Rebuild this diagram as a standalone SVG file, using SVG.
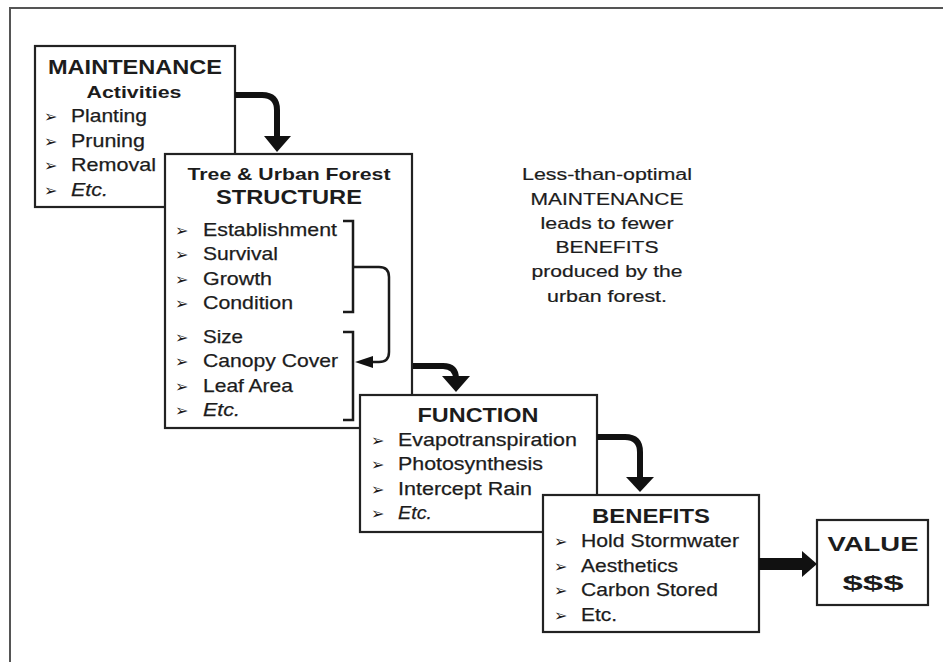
<svg xmlns="http://www.w3.org/2000/svg" width="943" height="662" viewBox="0 0 943 662">
<style>
.bg{fill:#fff}
.frame{fill:none;stroke:#555;stroke-width:2}
.box{fill:#fff;stroke:#222;stroke-width:2.2}
text{font-family:"Liberation Sans",Arial,sans-serif;fill:#1c1c1c}
.h{font-weight:bold;font-size:20px;text-anchor:middle}
.h2{font-weight:bold;font-size:17px;text-anchor:middle}
.it{font-size:19px;stroke:#1c1c1c;stroke-width:0.25}
.em{font-style:italic}
.b{font-family:"DejaVu Sans",sans-serif;font-size:16px}
.note{font-size:16px;text-anchor:middle;stroke:#1c1c1c;stroke-width:0.2}
.arr{fill:none;stroke:#111;stroke-width:6}
.head{fill:#111}
.brk{fill:none;stroke:#1a1a1a;stroke-width:2.5}
</style>
<rect class="bg" x="0" y="0" width="943" height="662"/>
<path class="frame" d="M10,662 V8 H943"/>

<g id="maintenance">
<rect class="box" x="35" y="46" width="200" height="161"/>
<text class="h" x="135" y="74" textLength="174" lengthAdjust="spacingAndGlyphs">MAINTENANCE</text>
<text class="h2" x="134" y="98" font-size="18" textLength="95" lengthAdjust="spacingAndGlyphs">Activities</text>
<text class="b" x="44" y="122">➢</text>
<text class="it" x="71" y="122" textLength="76" lengthAdjust="spacingAndGlyphs">Planting</text>
<text class="b" x="44" y="147">➢</text>
<text class="it" x="71" y="147" textLength="74" lengthAdjust="spacingAndGlyphs">Pruning</text>
<text class="b" x="44" y="171">➢</text>
<text class="it" x="71" y="171" textLength="85" lengthAdjust="spacingAndGlyphs">Removal</text>
<text class="b" x="44" y="196">➢</text>
<text class="it em" x="71" y="196" textLength="37" lengthAdjust="spacingAndGlyphs">Etc.</text>
</g>

<g id="structure">
<rect class="box" x="165" y="154" width="247" height="274"/>
<text class="h2" x="289" y="180" textLength="203" lengthAdjust="spacingAndGlyphs">Tree &amp; Urban Forest</text>
<text class="h" x="289" y="204" textLength="146" lengthAdjust="spacingAndGlyphs">STRUCTURE</text>
<text class="b" x="175" y="236">➢</text>
<text class="it" x="203" y="236" textLength="134" lengthAdjust="spacingAndGlyphs">Establishment</text>
<text class="b" x="175" y="260">➢</text>
<text class="it" x="203" y="260" textLength="75" lengthAdjust="spacingAndGlyphs">Survival</text>
<text class="b" x="175" y="285">➢</text>
<text class="it" x="203" y="285" textLength="69" lengthAdjust="spacingAndGlyphs">Growth</text>
<text class="b" x="175" y="309">➢</text>
<text class="it" x="203" y="309" textLength="90" lengthAdjust="spacingAndGlyphs">Condition</text>
<text class="b" x="175" y="343">➢</text>
<text class="it" x="203" y="343" textLength="40" lengthAdjust="spacingAndGlyphs">Size</text>
<text class="b" x="175" y="367">➢</text>
<text class="it" x="203" y="367" textLength="135" lengthAdjust="spacingAndGlyphs">Canopy Cover</text>
<text class="b" x="175" y="392">➢</text>
<text class="it" x="203" y="392" textLength="90" lengthAdjust="spacingAndGlyphs">Leaf Area</text>
<text class="b" x="175" y="416">➢</text>
<text class="it em" x="203" y="416" textLength="37" lengthAdjust="spacingAndGlyphs">Etc.</text>
<path class="brk" d="M343,221 H353 V312 H343"/>
<path class="brk" d="M343,332 H353 V420 H343"/>
</g>

<g id="function">
<rect class="box" x="360" y="395" width="237" height="137"/>
<text class="h" x="478" y="422" textLength="121" lengthAdjust="spacingAndGlyphs">FUNCTION</text>
<text class="b" x="371" y="446">➢</text>
<text class="it" x="398" y="446" textLength="179" lengthAdjust="spacingAndGlyphs">Evapotranspiration</text>
<text class="b" x="371" y="470">➢</text>
<text class="it" x="398" y="470" textLength="145" lengthAdjust="spacingAndGlyphs">Photosynthesis</text>
<text class="b" x="371" y="495">➢</text>
<text class="it" x="398" y="495" textLength="134" lengthAdjust="spacingAndGlyphs">Intercept Rain</text>
<text class="b" x="371" y="519">➢</text>
<text class="it em" x="398" y="519" textLength="34" lengthAdjust="spacingAndGlyphs">Etc.</text>
</g>

<g id="benefits">
<rect class="box" x="543" y="495" width="216" height="137"/>
<text class="h" x="651" y="523" textLength="118" lengthAdjust="spacingAndGlyphs">BENEFITS</text>
<text class="b" x="554" y="547">➢</text>
<text class="it" x="581" y="547" textLength="158" lengthAdjust="spacingAndGlyphs">Hold Stormwater</text>
<text class="b" x="554" y="572">➢</text>
<text class="it" x="581" y="572" textLength="97" lengthAdjust="spacingAndGlyphs">Aesthetics</text>
<text class="b" x="554" y="596">➢</text>
<text class="it" x="581" y="596" textLength="137" lengthAdjust="spacingAndGlyphs">Carbon Stored</text>
<text class="b" x="554" y="621">➢</text>
<text class="it" x="581" y="621" textLength="36" lengthAdjust="spacingAndGlyphs">Etc.</text>
</g>

<g id="value">
<rect class="box" x="817" y="520" width="111" height="85"/>
<text class="h" x="873" y="551" font-size="26" textLength="91" lengthAdjust="spacingAndGlyphs">VALUE</text>
<text class="h" x="873" y="590" font-size="32" textLength="61" lengthAdjust="spacingAndGlyphs">$$$</text>
</g>

<g id="note">
<text class="note" x="607" y="180" textLength="170" lengthAdjust="spacingAndGlyphs">Less-than-optimal</text>
<text class="note" x="607" y="205" textLength="153" lengthAdjust="spacingAndGlyphs">MAINTENANCE</text>
<text class="note" x="607" y="229" textLength="133" lengthAdjust="spacingAndGlyphs">leads to fewer</text>
<text class="note" x="607" y="253" textLength="103" lengthAdjust="spacingAndGlyphs">BENEFITS</text>
<text class="note" x="607" y="277" textLength="151" lengthAdjust="spacingAndGlyphs">produced by the</text>
<text class="note" x="607" y="302" textLength="120" lengthAdjust="spacingAndGlyphs">urban forest.</text>
</g>

<g id="connectors">
<path class="arr" d="M235,95 H262 Q277,95 277,110 V138"/>
<polygon class="head" points="264,136 291,136 277,152"/>
<path class="arr" d="M413,366 H443 Q456,366 456,379"/>
<polygon class="head" points="442,376 470,376 456,392"/>
<path class="arr" d="M597,437 H625 Q640,437 640,452 V479"/>
<polygon class="head" points="626,477 654,477 640,492"/>
<rect class="head" x="759" y="558" width="45" height="12"/>
<polygon class="head" points="802,551 817,564 802,577"/>
<path class="brk" d="M353,267 H379 Q389,267 389,277 V352 Q389,362 379,362 H370"/>
<polygon class="head" points="373,356 355,362 373,368"/>
</g>
</svg>
